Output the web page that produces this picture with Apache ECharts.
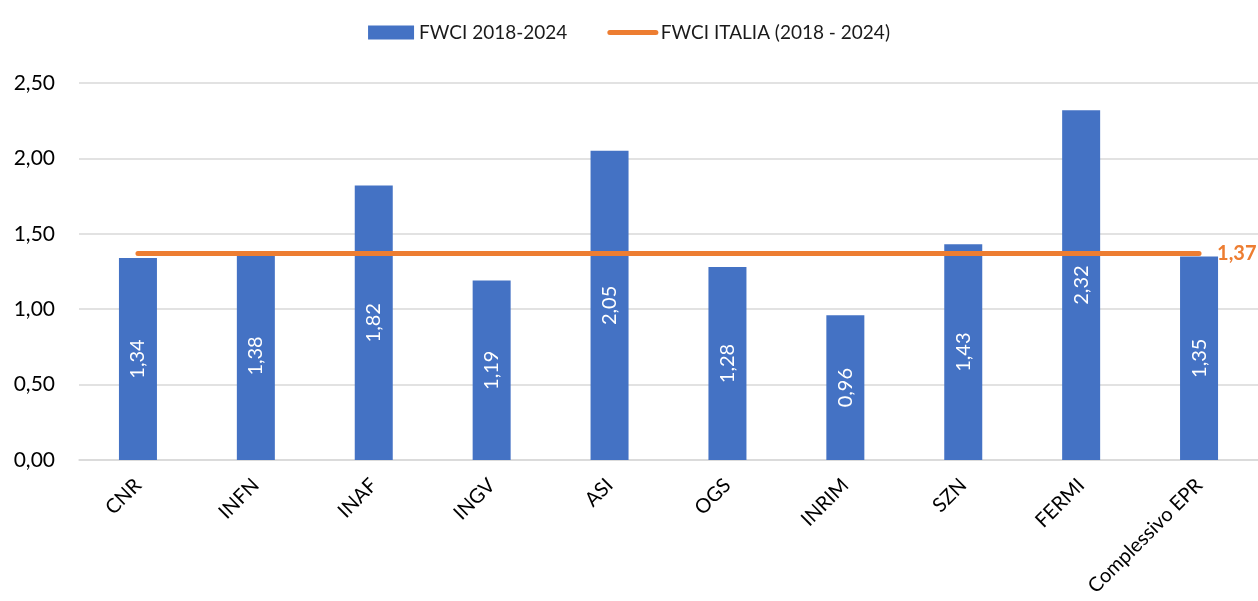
<!DOCTYPE html>
<html>
<head>
<meta charset="utf-8">
<title>FWCI 2018-2024</title>
<script src="https://cdn.jsdelivr.net/npm/echarts@6/dist/echarts.min.js"></script>
<style>
	html,body{margin:0;padding:0;background:#fff;}
	#chart{width:1258px;height:601px;}
</style>
</head>
<body>
<div id="chart"></div>
<script>
var categories=['CNR','INFN','INAF','INGV','ASI','OGS','INRIM','SZN','FERMI','Complessivo EPR'];
var fwci=[1.34,1.38,1.82,1.19,2.05,1.28,0.96,1.43,2.32,1.35];
var italia=1.37;
var italiaLine=categories.map(function(){return italia;});
var yTicks=[0,0.5,1,1.5,2,2.5];

// numeri con la virgola
function comma(v){
	return Number(v).toFixed(2).replace('.',',');
}

var myChart=echarts.init(document.getElementById('chart'));
var font='Lato, "Liberation Sans", sans-serif';
var option={
	animation:false,
	textStyle:{fontFamily:font},
	legend:{
		top:18,
		left:'center',
		itemWidth:46,
		itemHeight:14,
		itemGap:40,
		textStyle:{fontSize:19,color:'#1a1a1a',fontFamily:font},
		data:[
			{name:'FWCI 2018-2024',icon:'rect'},
			{name:'FWCI ITALIA (2018 - 2024)',itemStyle:{opacity:0},lineStyle:{width:5,cap:'round',color:'#ED7D31'}}
		]
	},
	grid:{left:79,right:0,top:83,bottom:141,containLabel:false},
	xAxis:{
		type:'category',
		data:categories,
		axisLine:{lineStyle:{color:'#d9d9d9',width:1.5}},
		axisTick:{show:false},
		axisLabel:{
			rotate:45,
			margin:22,
			fontSize:20,
			color:'#000',
			interval:0
		}
	},
	yAxis:{
		type:'value',
		min:yTicks[0],
		max:yTicks[yTicks.length-1],
		interval:0.5,
		axisLine:{show:false},
		axisTick:{show:false},
		splitLine:{lineStyle:{color:'#d9d9d9',width:1.5}},
		axisLabel:{
			margin:24,
			fontSize:21,
			color:'#000',
			formatter:function(v){return comma(v);}
		}
	},
	series:[
		{
			name:'FWCI 2018-2024',
			type:'bar',
			data:fwci,
			barWidth:38,
			itemStyle:{color:'#4472C4'},
			label:{
				show:true,
				position:'inside',
				rotate:90,
				color:'#fff',
				fontSize:20,
				formatter:function(p){return comma(p.value);}
			},
			z:2
		},
		{
			name:'FWCI ITALIA (2018 - 2024)',
			type:'line',
			data:italiaLine,
			symbol:'none',
			lineStyle:{color:'#ED7D31',width:5,cap:'round'},
			itemStyle:{color:'#ED7D31'},
			endLabel:{
				show:true,
				distance:18,
				color:'#ED7D31',
				fontWeight:'bold',
				fontSize:20,
				formatter:function(p){return comma(p.value);}
			},
			z:3
		}
	]
};
myChart.setOption(option);
</script>
</body>
</html>
